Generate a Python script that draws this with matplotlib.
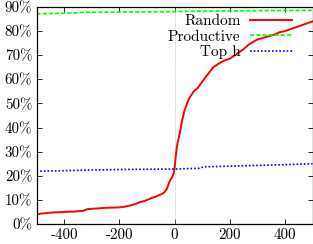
import matplotlib
matplotlib.use('Agg')
import matplotlib.pyplot as plt

# values (x offset, percent)
random_x = [-500, -470, -440, -400, -360, -330, -318, -300, -250, -200, -180,
            -160, -140, -125, -110, -95, -80, -65, -50, -38, -28, -20, -14,
            -8, -3, 0, 4, 8, 12, 18, 25, 35, 45, 55, 70, 85, 100, 120, 140,
            160, 180, 200, 225, 250, 270, 300, 330, 360, 380, 400, 420, 450,
            475, 500]
random_y = [4.0, 4.5, 4.8, 5.0, 5.2, 5.5, 6.1, 6.3, 6.7, 6.9, 7.2,
            7.7, 8.3, 9.1, 9.5, 10.2, 10.9, 11.5, 12.2, 13.0, 14.5, 17.0, 18.5,
            19.5, 21.0, 23.0, 27.5, 31.5, 34.0, 37.0, 41.5, 46.5, 50.0, 52.5, 55.0,
            56.5, 59.0, 62.0, 65.0, 66.5, 67.8, 68.5, 70.5, 72.5, 74.5, 76.5, 77.5,
            78.5, 79.5, 80.0, 80.8, 82.0, 83.0, 84.0]

productive_x = [-500, -400, -320, -200, 0, 100, 300, 500]
productive_y = [87.2, 87.4, 87.8, 87.9, 88.1, 88.3, 88.5, 88.6]

toph_x = [-500, -400, -300, -200, -100, 0, 90, 105, 200, 300, 400, 500]
toph_y = [21.9, 22.1, 22.4, 22.6, 22.7, 22.8, 23.1, 23.7, 24.0, 24.3, 24.6, 25.0]

xticks = [-400, -200, 0, 200, 400]
yticks = [0, 10, 20, 30, 40, 50, 60, 70, 80, 90]

plt.rcParams['font.family'] = 'cmr10'
plt.rcParams['axes.unicode_minus'] = False

fig = plt.figure(figsize=(3.13, 2.44), dpi=100)
ax = fig.add_axes([36.5 / 313, 20 / 244, 276 / 313, 217 / 244])

ax.axvline(0, color='#b0b0b0', linewidth=0.6, linestyle=(0, (1, 1.5)))
ax.plot(random_x, random_y, color='#ff0000', linewidth=1.4, label='Random')
ax.plot(productive_x, productive_y, color='#00ff00', linewidth=1.2,
        linestyle=(0, (2.5, 1.2)), label='Productive')
ax.plot(toph_x, toph_y, color='#0000ff', linewidth=1.2,
        linestyle=(0, (1, 1.2)), label='Top h')

ax.set_xlim(-500, 500)
ax.set_ylim(0, 90)
ax.set_xticks(xticks)
ax.set_xticklabels([str(v) for v in xticks])
ax.set_yticks(yticks)
ax.set_yticklabels([f'{v}%' for v in yticks])
ax.tick_params(direction='in', top=True, right=True, length=3.5, width=0.6,
               labelsize=10.8, pad=3)
for s in ax.spines.values():
    s.set_linewidth(0.9)

ax.legend(loc='upper right', frameon=False, markerfirst=False, fontsize=11,
          handlelength=2.8, handletextpad=0.6, labelspacing=0.1,
          borderaxespad=0.1, bbox_to_anchor=(0.955, 1.0))

fig.savefig('out.png', dpi=100)
